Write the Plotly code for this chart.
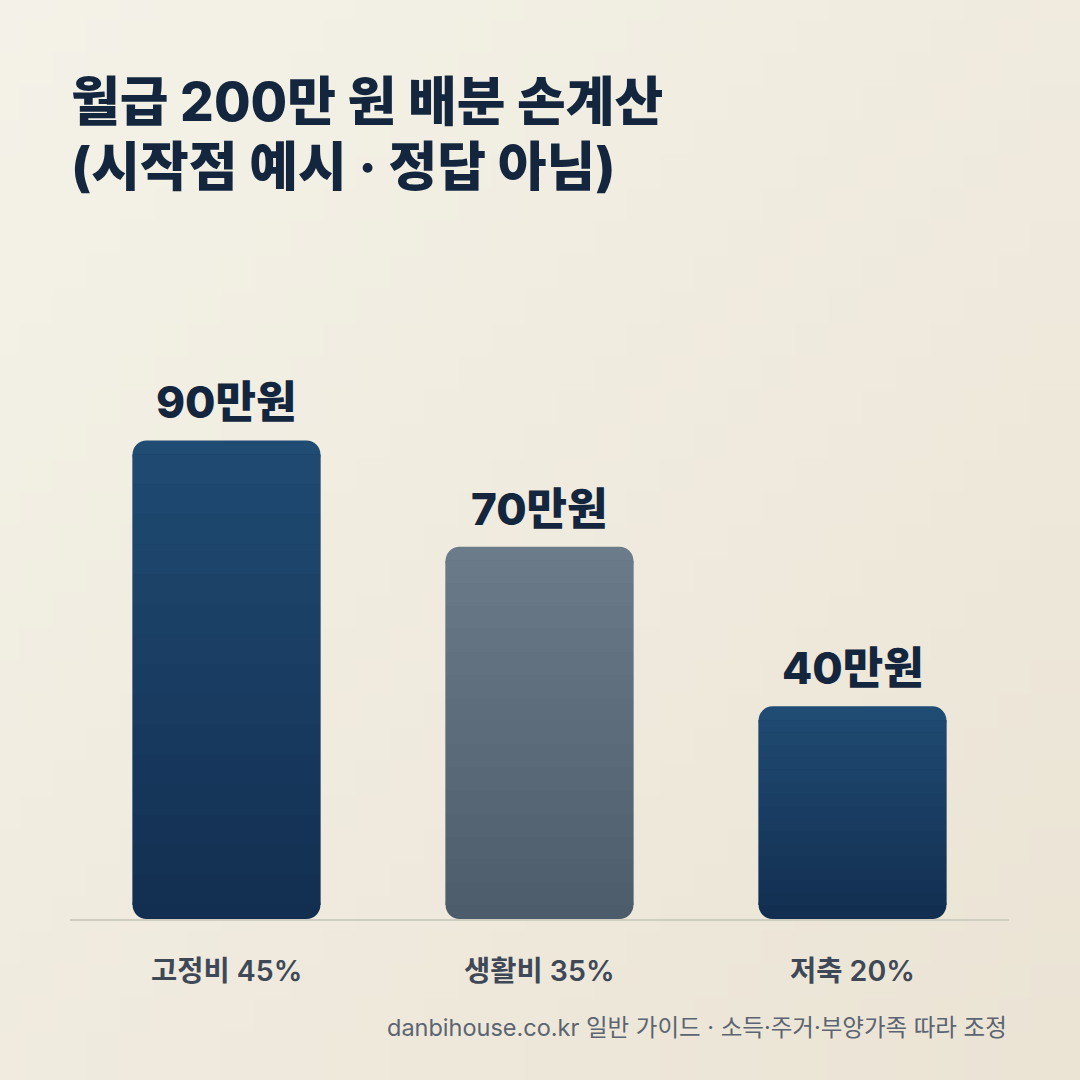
import base64
import struct
import zlib

import plotly.graph_objects as go

# data
categories = ["고정비 45%", "생활비 35%", "저축 20%"]
amounts = [90, 70, 40]  # 만원
amount_labels = ["90만원", "70만원", "40만원"]

title_lines = ["월급 200만 원 배분 손계산", "(시작점 예시 · 정답 아님)"]
footer_text = "danbihouse.co.kr 일반 가이드 · 소득·주거·부양가족 따라 조정"

# style
W, H = 1080, 1080
M_L, M_R, M_T, M_B = 70, 71, 300, 161
Y_MAX = 116.4
PX_PER_UNIT = (H - M_T - M_B) / Y_MAX
RADIUS = 14
R_UNITS = RADIUS / PX_PER_UNIT  # height of the rounded caps in data units
N_SEG = 15

bar_top = ["#204b73", "#6b7b89", "#204b73"]
bar_bottom = ["#122e50", "#4d5c6b", "#122e50"]
navy = "#13263e"
FONT = "Inter, 'Noto Sans CJK KR', sans-serif"


def hex_rgb(h):
    h = h.lstrip("#")
    return tuple(int(h[i:i + 2], 16) for i in (0, 2, 4))


def lerp_color(c0, c1, t):
    a, b = hex_rgb(c0), hex_rgb(c1)
    return "rgb(%d,%d,%d)" % tuple(round(x + (y - x) * t) for x, y in zip(a, b))


def gradient_png(n, c0, c1):
    a, b = hex_rgb(c0), hex_rgb(c1)
    raw = b""
    for yy in range(n):
        row = b"\x00"
        for xx in range(n):
            t = (xx + yy) / (2 * (n - 1))
            row += bytes(round(p + (q - p) * t) for p, q in zip(a, b))
        raw += row

    def chunk(tag, data):
        c = struct.pack(">I", len(data)) + tag + data
        return c + struct.pack(">I", zlib.crc32(tag + data) & 0xFFFFFFFF)

    png = (b"\x89PNG\r\n\x1a\n"
           + chunk(b"IHDR", struct.pack(">IIBBBBB", n, n, 8, 2, 0, 0, 0))
           + chunk(b"IDAT", zlib.compress(raw))
           + chunk(b"IEND", b""))
    return "data:image/png;base64," + base64.b64encode(png).decode()


fig = go.Figure()

# rounded caps only at the ends of each bar
cap = [2 * R_UNITS for _ in amounts]
fig.add_trace(go.Bar(x=categories, y=cap, base=[v - c for v, c in zip(amounts, cap)],
                     width=0.6, marker=dict(color=bar_top, cornerradius=RADIUS, line_width=0)))
fig.add_trace(go.Bar(x=categories, y=[-c for c in cap], base=cap,
                     width=0.6, marker=dict(color=bar_bottom, cornerradius=RADIUS, line_width=0)))

# plain backing behind the gradient body, hides hairline seams between slices
mid = [lerp_color(b, t, 0.5) for b, t in zip(bar_bottom, bar_top)]
fig.add_trace(go.Bar(x=categories, y=[v - 2 * R_UNITS for v in amounts],
                     base=[R_UNITS for _ in amounts], width=0.6,
                     marker=dict(color=mid, line_width=0)))

# vertical gradient between the caps, as thin square slices
for k in range(N_SEG):
    seg = [(v - 2 * R_UNITS) / N_SEG for v in amounts]
    base = [R_UNITS + k * s for s in seg]
    colors = [lerp_color(bb, tt, (b0 + s / 2) / v)
              for bb, tt, b0, s, v in zip(bar_bottom, bar_top, base, seg, amounts)]
    fig.add_trace(go.Bar(x=categories, y=seg, base=base, width=0.6,
                         marker=dict(color=colors, line_width=0)))

# value labels above bars
for cat, v, lab in zip(categories, amounts, amount_labels):
    fig.add_annotation(x=cat, y=v, text=lab, showarrow=False, yanchor="middle", yshift=38,
                       font=dict(family=FONT, size=44, color=navy, weight=800))

# category labels under the baseline
for cat in categories:
    fig.add_annotation(x=cat, y=0, text=cat, showarrow=False, yanchor="middle", yshift=-51,
                       font=dict(family=FONT, size=28.5, color="#3e4857", weight=600))

plot_h = H - M_T - M_B
plot_w = W - M_L - M_R


def paper_y(px):
    return (H - M_B - px) / plot_h


# two-line title
for line, cy in zip(title_lines, [102, 167]):
    fig.add_annotation(xref="paper", yref="paper", x=0, y=paper_y(cy), xanchor="left",
                       yanchor="middle", text=line, showarrow=False, borderpad=0,
                       font=dict(family=FONT, size=53, color=navy, weight=800))

fig.add_annotation(xref="paper", yref="paper", x=1, y=paper_y(1027),
                   xanchor="right", yanchor="middle", text=footer_text, showarrow=False,
                   font=dict(family=FONT, size=23.5, color="#5b6470"))

fig.add_layout_image(dict(
    source=gradient_png(32, "#f4f2e8", "#ebe4d5"),
    xref="paper", yref="paper",
    x=-M_L / plot_w, y=1 + M_T / plot_h,
    sizex=W / plot_w, sizey=H / plot_h,
    xanchor="left", yanchor="top", sizing="stretch", layer="below",
))

fig.update_layout(
    width=W, height=H, autosize=False,
    margin=dict(l=M_L, r=M_R, t=M_T, b=M_B),
    barmode="overlay",
    showlegend=False,
    paper_bgcolor="#f0ece0",
    plot_bgcolor="rgba(0,0,0,0)",
    xaxis=dict(type="category", range=[-0.5, 2.5], showticklabels=False, showgrid=False,
               zeroline=False, showline=True, linecolor="#cecdc0", linewidth=2, ticks=""),
    yaxis=dict(range=[0, Y_MAX], visible=False, fixedrange=True),
    hovermode=False,
)

# no page margin, so the figure fills the window exactly
fig.write_html("out.html", config={"displayModeBar": False},
               post_script="document.body.style.margin='0';")
